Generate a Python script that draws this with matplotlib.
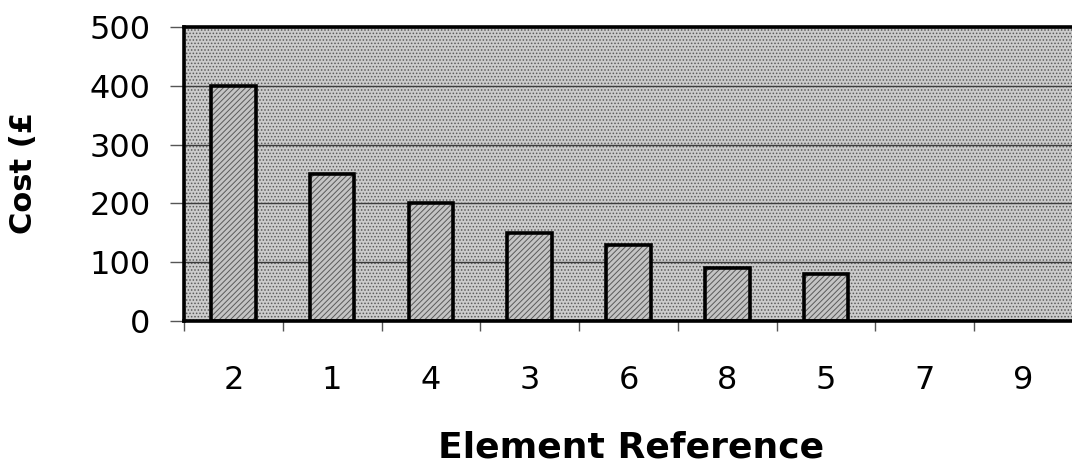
import numpy as np
import matplotlib.pyplot as plt
from matplotlib.patches import Rectangle

plt.rcParams['font.family'] = ['DejaVu Sans']
plt.rcParams['hatch.color'] = '#5a5a5a'
plt.rcParams['hatch.linewidth'] = 0.7

# data
elements = ['2', '1', '4', '3', '6', '8', '5', '7', '9']
costs = [400, 250, 200, 150, 130, 90, 80, 0, 0]
y_ticks = [0, 100, 200, 300, 400, 500]

fig = plt.figure(figsize=(10.72, 4.65), dpi=100)
ax = fig.add_axes([184 / 1072, 144 / 465, 889 / 1072, 294 / 465])

# dotted grey plot area
ax.add_patch(Rectangle((0, 0), 1, 1, transform=ax.transAxes, facecolor='#cbcbcb',
                       hatch='.....', linewidth=0, zorder=0))

x = np.arange(len(elements))
ax.bar(x, costs, width=0.45, color='#c4c4c4', hatch='//////', linewidth=0, zorder=2)
ax.bar(x, costs, width=0.45, fill=False, edgecolor='black', linewidth=2.6, zorder=3)

ax.set_xlim(-0.5, len(elements) - 0.5)
ax.set_ylim(0, 500)
ax.set_yticks(y_ticks)
ax.yaxis.grid(True, color='#3c3c3c', linewidth=1.0, zorder=1)
ax.set_axisbelow(True)

# labels at category centres, tick marks at category boundaries
ax.set_xticks(x)
ax.set_xticklabels(elements)
ax.set_xticks(np.arange(len(elements) + 1) - 0.5, minor=True)
ax.tick_params(axis='x', which='major', length=0, pad=32, labelsize=23)
ax.tick_params(axis='x', which='minor', length=7, width=1, color='#555555', direction='out')
ax.tick_params(axis='y', length=10, width=1, color='#555555', pad=14, labelsize=23)

for side in ['left', 'top', 'bottom']:
    ax.spines[side].set_linewidth(2.6)
    ax.spines[side].set_color('black')
ax.spines['right'].set_visible(False)

fig.text(24 / 1072, 1 - 173 / 465, 'Cost (£', rotation=90, ha='center', va='center',
         fontsize=22, fontweight='bold')
fig.text(631 / 1072, 1 - 447 / 465, 'Element Reference', ha='center', va='center',
         fontsize=26, fontweight='bold')

fig.savefig('out.png', dpi=100)
